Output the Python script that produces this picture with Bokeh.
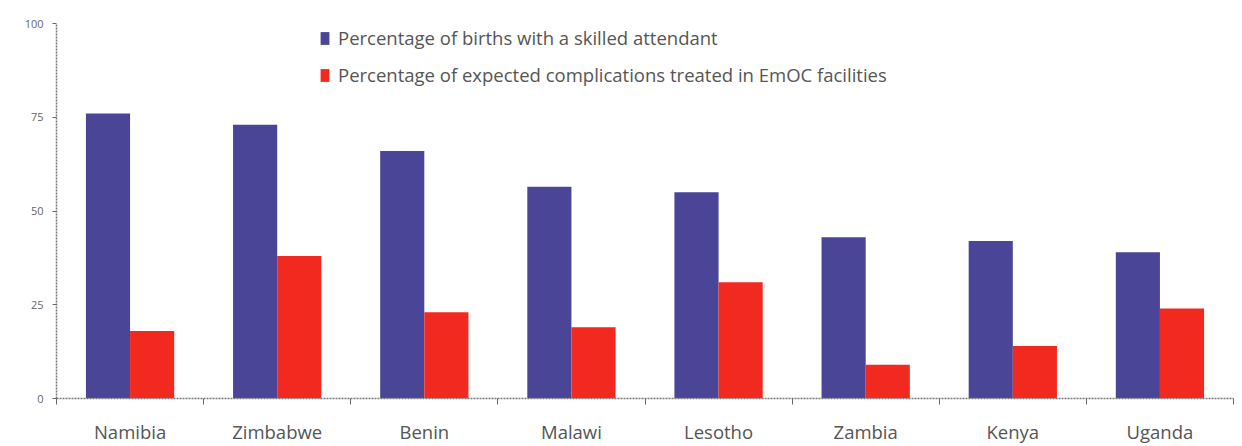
from bokeh.plotting import figure
from bokeh.models import (ColumnDataSource, FixedTicker, Legend, LegendItem, Range1d)
from bokeh.embed import file_html
from bokeh.resources import INLINE
from bokeh.transform import dodge

countries = ["Namibia", "Zimbabwe", "Benin", "Malawi", "Lesotho", "Zambia", "Kenya", "Uganda"]
skilled = [76, 73, 66, 56.5, 55, 43, 42, 39]
emoc = [18, 38, 23, 19, 31, 9, 14, 24]
y_ticks = [0, 25, 50, 75, 100]
series_labels = ["Percentage of births with a skilled attendant",
                 "Percentage of expected complications treated in EmOC facilities"]

pos = [i + 0.5 for i in range(len(countries))]
src = ColumnDataSource(dict(x=pos, country=countries, skilled=skilled, emoc=emoc))

p = figure(width=1242, height=446, output_backend="svg", toolbar_location=None,
           x_range=Range1d(0, len(countries)), y_range=Range1d(0, 100),
           min_border_left=56, min_border_right=9, min_border_top=23, min_border_bottom=46)
p.outline_line_color = None
p.grid.grid_line_color = None

BLUE = "#4a4596"
RED = "#f2291f"
r1 = p.vbar(x=dodge("x", -0.15, range=p.x_range), top="skilled", width=0.3, source=src,
            fill_color=BLUE, line_color=None)
r2 = p.vbar(x=dodge("x", 0.15, range=p.x_range), top="emoc", width=0.3, source=src,
            fill_color=RED, line_color=None)

font = "Open Sans"
# x axis
p.xaxis.ticker = FixedTicker(ticks=pos, minor_ticks=list(range(len(countries) + 1)))
p.xaxis.major_label_overrides = {x: c for x, c in zip(pos, countries)}
p.xaxis.major_tick_out = 0
p.xaxis.major_tick_in = 0
p.xaxis.minor_tick_out = 6
p.xaxis.minor_tick_in = 0
p.xaxis.minor_tick_line_color = "#666666"
p.xaxis.major_label_standoff = 14
p.xaxis.major_label_text_font = font
p.xaxis.major_label_text_font_size = "18.5px"
p.xaxis.major_label_text_color = "#555555"
p.xaxis.axis_line_color = "#777777"
p.xaxis.axis_line_width = 1.5
p.xaxis.axis_line_dash = "2 1"

# y axis
p.yaxis.ticker = FixedTicker(ticks=y_ticks, minor_ticks=[])
p.yaxis.major_tick_out = 4
p.yaxis.major_tick_in = 0
p.yaxis.major_tick_line_color = "#666666"
p.yaxis.major_label_standoff = 9
p.yaxis.major_label_text_font = font
p.yaxis.major_label_text_font_size = "11px"
p.yaxis.major_label_text_color = "#666666"
p.yaxis.axis_line_color = "#777777"
p.yaxis.axis_line_width = 1.5
p.yaxis.axis_line_dash = "2 1"

legend = Legend(items=[LegendItem(label=series_labels[0], renderers=[r1]),
                       LegendItem(label=series_labels[1], renderers=[r2])],
                location=(263, 311), orientation="vertical")
legend.glyph_width = 11
legend.glyph_height = 16
legend.label_height = 24
legend.spacing = 12
legend.padding = 0
legend.margin = 0
legend.label_standoff = 8
legend.border_line_color = None
legend.background_fill_alpha = 0
legend.label_text_font = font
legend.label_text_font_size = "18.5px"
legend.label_text_color = "#555555"
p.add_layout(legend, "center")

open("out.html", "w").write(file_html(p, INLINE))
